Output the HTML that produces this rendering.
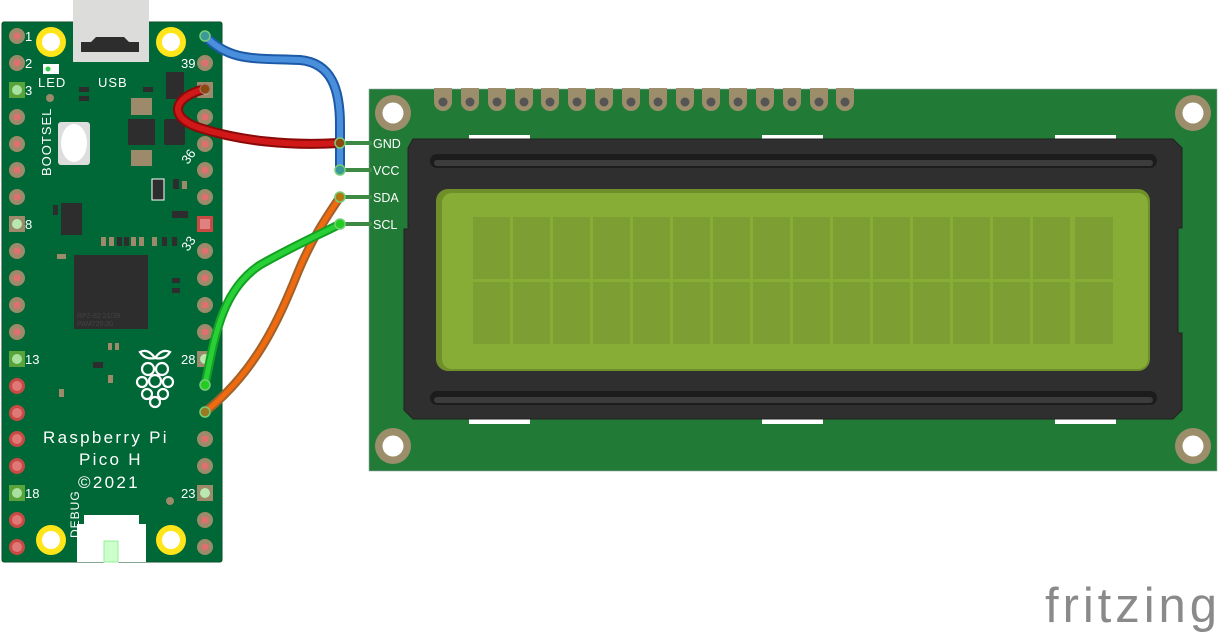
<!DOCTYPE html>
<html><head><meta charset="utf-8"><style>
html,body{margin:0;padding:0;background:#fff;width:1218px;height:633px;overflow:hidden}
svg{display:block}
text{font-family:"Liberation Sans","DejaVu Sans",sans-serif}
</style></head><body>
<svg width="1218" height="633" viewBox="0 0 1218 633" xmlns="http://www.w3.org/2000/svg">
<defs>
<g id="tp"><circle r="8" fill="#9c8a6a"/><circle r="3.5" fill="#e07070"/></g>
<g id="rp"><circle r="8" fill="#c94a45"/><circle r="5" fill="#e07878"/></g>
<g id="gs"><rect x="-8" y="-8" width="16" height="16" fill="#5aa33a"/><circle r="5" fill="#a8e0a0"/></g>
<g id="ts"><rect x="-8" y="-8" width="16" height="16" fill="#9c8a6a"/><circle r="5" fill="#b8e8b0"/></g>
<g id="rs"><rect x="-8" y="-8" width="16" height="16" fill="#c94a45"/><rect x="-5" y="-5" width="10" height="10" fill="#e08080"/></g>
<g id="hp"><path d="M-9,-14 h18 v14 a9,9 0 0 1 -18,0z" fill="#9c8e6a"/><circle cy="0" r="4.5" fill="#555"/></g>
<g id="mh"><circle r="18" fill="#9c8e6a"/><circle r="10.5" fill="#fff"/></g>
<g id="yh"><circle r="15" fill="#ffe51a"/><circle r="9" fill="#fff"/></g>
</defs>

<!-- PICO -->
<rect x="2" y="22" width="220" height="540" rx="2" fill="#006837" stroke="#0a4f2a" stroke-width="1"/>
<rect x="73" y="0" width="76" height="62" fill="#dcdcda"/>
<path d="M81,42 h10 l5,-5 h28 l5,5 h10 v10 h-58z" fill="#2d2d2d"/>
<use href="#yh" x="51" y="42"/><use href="#yh" x="171" y="42"/>
<use href="#yh" x="51" y="540"/><use href="#yh" x="171" y="540"/>
<rect x="43" y="64" width="16" height="10" fill="#fff"/><circle cx="48" cy="69" r="2.5" fill="#2ecc40"/>
<text x="38" y="87" font-size="13" fill="#fff" letter-spacing="1">LED</text>
<text x="98" y="87" font-size="13" fill="#fff" letter-spacing="1">USB</text>
<circle cx="50" cy="98" r="4" fill="#9c8a6a"/>
<rect x="58" y="122" width="32" height="43" rx="3" fill="#ddd"/><ellipse cx="74" cy="143" rx="13" ry="19" fill="#fff"/>
<text transform="translate(51,176) rotate(-90)" font-size="13" fill="#fff" letter-spacing="1">BOOTSEL</text>
<rect x="166" y="72" width="18" height="27" fill="#2d2d2d"/>
<rect x="131" y="98" width="21" height="17" fill="#9c8a6a"/><rect x="128" y="119" width="27" height="26" fill="#2d2d2d"/>
<rect x="164" y="119" width="21" height="26" rx="2" fill="#2d2d2d"/><rect x="131" y="150" width="21" height="16" fill="#9c8a6a"/>
<rect x="79" y="87" width="10" height="5" fill="#2d2d2d"/><rect x="79" y="96" width="10" height="5" fill="#2d2d2d"/>
<rect x="143" y="87" width="10" height="5" fill="#2d2d2d"/>
<rect x="152" y="179" width="12" height="21" fill="#2d2d2d" stroke="#fff" stroke-width="1"/>
<rect x="173" y="179" width="6" height="10" fill="#2d2d2d"/><rect x="182" y="181" width="5" height="8" fill="#9c8a6a"/>
<rect x="61" y="203" width="21" height="32" fill="#2d2d2d"/><rect x="53" y="205" width="5" height="10" fill="#2d2d2d"/>
<rect x="172" y="211" width="16" height="7" fill="#2d2d2d"/>
<g fill="#9c8a6a"><rect x="101" y="237" width="5" height="9"/><rect x="109" y="237" width="5" height="9"/><rect x="131" y="237" width="5" height="9"/><rect x="139" y="237" width="5" height="9"/><rect x="152" y="237" width="5" height="9"/></g>
<g fill="#2d2d2d"><rect x="117" y="237" width="5" height="9"/><rect x="124" y="237" width="5" height="9"/><rect x="162" y="237" width="5" height="9"/><rect x="172" y="237" width="5" height="9"/></g>
<rect x="74" y="255" width="74" height="74" fill="#2d2d2d"/>
<text x="77" y="318" font-size="7" fill="#444">RP2-82   21/39</text>
<text x="77" y="326" font-size="7" fill="#444">PAM720.00</text>
<rect x="57" y="254" width="9" height="5" fill="#9c8a6a"/><rect x="172" y="278" width="8" height="5" fill="#2d2d2d"/><rect x="172" y="288" width="8" height="5" fill="#2d2d2d"/>
<text transform="translate(188,165) rotate(-55)" font-size="13" fill="#fff">36</text>
<text transform="translate(188,252) rotate(-55)" font-size="13" fill="#fff">33</text>
<g fill="none" stroke="#fff" stroke-width="2.2">
<path d="M140,352 q8,-4 15,6 q-10,2 -15,-6z M170,352 q-8,-4 -15,6 q10,2 15,-6z"/>
<circle cx="148" cy="369" r="6"/><circle cx="162" cy="369" r="6"/><circle cx="155" cy="381" r="6"/>
<circle cx="142" cy="382" r="5"/><circle cx="168" cy="382" r="5"/><circle cx="147" cy="394" r="5"/><circle cx="163" cy="394" r="5"/><circle cx="155" cy="402" r="5"/>
</g>
<rect x="108" y="343" width="4" height="7" fill="#9c8a6a"/><rect x="115" y="343" width="4" height="7" fill="#9c8a6a"/>
<rect x="93" y="362" width="10" height="6" fill="#2d2d2d"/><rect x="108" y="375" width="5" height="8" fill="#9c8a6a"/><rect x="59" y="389" width="5" height="8" fill="#9c8a6a"/>
<text x="43" y="443" font-size="17" fill="#fff" letter-spacing="2.3">Raspberry Pi</text>
<text x="79" y="465" font-size="17" fill="#fff" letter-spacing="2.3">Pico H</text>
<text x="78" y="488" font-size="17" fill="#fff" letter-spacing="2.3">©2021</text>
<text transform="translate(79,538) rotate(-90)" font-size="12" fill="#fff" letter-spacing="1">DEBUG</text>
<circle cx="170" cy="501" r="4" fill="#9c8a6a"/>
<rect x="77" y="524" width="69" height="38" fill="#fff"/><rect x="84" y="515" width="55" height="12" fill="#fff"/>
<rect x="104" y="541" width="14" height="21" fill="#cfc" stroke="#9e9" stroke-width="1"/>
<text x="25" y="41" font-size="13" fill="#fff">1</text><text x="25" y="68" font-size="13" fill="#fff">2</text><text x="25" y="95" font-size="13" fill="#fff">3</text>
<text x="25" y="229" font-size="13" fill="#fff">8</text><text x="25" y="364" font-size="13" fill="#fff">13</text><text x="25" y="498" font-size="13" fill="#fff">18</text>
<text x="181" y="68" font-size="13" fill="#fff">39</text><text x="181" y="364" font-size="13" fill="#fff">28</text><text x="181" y="498" font-size="13" fill="#fff">23</text>
<use href="#tp" x="17" y="36"/><use href="#tp" x="17" y="63"/><use href="#gs" x="17" y="90"/>
<use href="#tp" x="17" y="117"/><use href="#tp" x="17" y="144"/><use href="#tp" x="17" y="170"/><use href="#tp" x="17" y="197"/>
<use href="#ts" x="17" y="224"/><use href="#tp" x="17" y="251"/><use href="#tp" x="17" y="278"/><use href="#tp" x="17" y="305"/><use href="#tp" x="17" y="332"/>
<use href="#gs" x="17" y="359"/><use href="#rp" x="17" y="386"/><use href="#rp" x="17" y="413"/><use href="#rp" x="17" y="439"/><use href="#rp" x="17" y="466"/>
<use href="#gs" x="17" y="493"/><use href="#rp" x="17" y="520"/><use href="#rp" x="17" y="547"/>
<use href="#tp" x="205" y="63"/><use href="#ts" x="205" y="90"/>
<use href="#tp" x="205" y="117"/><use href="#tp" x="205" y="144"/><use href="#tp" x="205" y="170"/><use href="#tp" x="205" y="197"/>
<use href="#rs" x="205" y="224"/><use href="#tp" x="205" y="251"/><use href="#tp" x="205" y="278"/><use href="#tp" x="205" y="305"/><use href="#tp" x="205" y="332"/>
<use href="#ts" x="205" y="359"/><use href="#tp" x="205" y="439"/><use href="#tp" x="205" y="466"/>
<use href="#ts" x="205" y="493"/><use href="#tp" x="205" y="520"/><use href="#tp" x="205" y="547"/>

<!-- LCD -->
<rect x="369" y="89" width="848" height="382" fill="#217a35" stroke="#9aa" stroke-width="0.6"/>
<use href="#mh" x="393" y="113"/><use href="#mh" x="1193" y="113"/><use href="#mh" x="393" y="446"/><use href="#mh" x="1193" y="446"/>
<use href="#hp" x="443" y="102"/><use href="#hp" x="470" y="102"/><use href="#hp" x="497" y="102"/><use href="#hp" x="524" y="102"/>
<use href="#hp" x="550" y="102"/><use href="#hp" x="577" y="102"/><use href="#hp" x="604" y="102"/><use href="#hp" x="631" y="102"/>
<use href="#hp" x="658" y="102"/><use href="#hp" x="685" y="102"/><use href="#hp" x="711" y="102"/><use href="#hp" x="738" y="102"/>
<use href="#hp" x="765" y="102"/><use href="#hp" x="792" y="102"/><use href="#hp" x="819" y="102"/><use href="#hp" x="845" y="102"/>
<g fill="#fff"><rect x="469" y="135" width="61" height="5"/><rect x="762" y="135" width="61" height="5"/><rect x="1055" y="135" width="61" height="5"/>
<rect x="469" y="419" width="61" height="5"/><rect x="762" y="419" width="61" height="5"/><rect x="1055" y="419" width="61" height="5"/></g>
<path d="M413,139 H1173 L1182,148 V228 H1178 V333 H1182 V410 L1173,419 H413 L404,410 V229 H408 V148 Z" fill="#2f2f2f" stroke="#222" stroke-width="1"/>
<rect x="430" y="154" width="727" height="14" rx="7" fill="#1c1c1c"/><rect x="434" y="160" width="719" height="6" rx="3" fill="#3c3c3c"/>
<rect x="430" y="391" width="727" height="14" rx="7" fill="#1c1c1c"/><rect x="434" y="397" width="719" height="6" rx="3" fill="#3c3c3c"/>
<rect x="436" y="189" width="714" height="182" rx="12" fill="#6f8f2a"/>
<rect x="442" y="193" width="706" height="176" rx="10" fill="#88ad36"/>
<g fill="#7c9e33">
<rect x="473" y="217" width="37" height="62"/><rect x="513" y="217" width="37" height="62"/><rect x="553" y="217" width="37" height="62"/><rect x="593" y="217" width="37" height="62"/>
<rect x="633" y="217" width="37" height="62"/><rect x="673" y="217" width="37" height="62"/><rect x="713" y="217" width="37" height="62"/><rect x="753" y="217" width="37" height="62"/>
<rect x="793" y="217" width="37" height="62"/><rect x="833" y="217" width="37" height="62"/><rect x="873" y="217" width="37" height="62"/><rect x="913" y="217" width="37" height="62"/>
<rect x="953" y="217" width="37" height="62"/><rect x="993" y="217" width="37" height="62"/><rect x="1033" y="217" width="37" height="62"/><rect x="1075" y="217" width="38" height="62"/>
<rect x="473" y="282" width="37" height="62"/><rect x="513" y="282" width="37" height="62"/><rect x="553" y="282" width="37" height="62"/><rect x="593" y="282" width="37" height="62"/>
<rect x="633" y="282" width="37" height="62"/><rect x="673" y="282" width="37" height="62"/><rect x="713" y="282" width="37" height="62"/><rect x="753" y="282" width="37" height="62"/>
<rect x="793" y="282" width="37" height="62"/><rect x="833" y="282" width="37" height="62"/><rect x="873" y="282" width="37" height="62"/><rect x="913" y="282" width="37" height="62"/>
<rect x="953" y="282" width="37" height="62"/><rect x="993" y="282" width="37" height="62"/><rect x="1033" y="282" width="37" height="62"/><rect x="1075" y="282" width="38" height="62"/>
</g>
<g stroke="#3d8a45" stroke-width="4"><line x1="338" y1="143" x2="372" y2="143"/><line x1="338" y1="170" x2="372" y2="170"/><line x1="338" y1="197" x2="372" y2="197"/><line x1="338" y1="224" x2="372" y2="224"/></g>
<g font-size="12.5" fill="#fff"><text x="373" y="148">GND</text><text x="373" y="175">VCC</text><text x="373" y="202">SDA</text><text x="373" y="229">SCL</text></g>

<!-- wires -->
<g fill="none" stroke-linecap="round">
<path d="M205,36 C230,62 255,58 300,60 C332,63 340,90 340,125 L340,170" stroke="#1c5aa8" stroke-width="10"/>
<path d="M205,36 C230,62 255,58 300,60 C332,63 340,90 340,125 L340,170" stroke="#4a8fdc" stroke-width="6"/>
<path d="M205,89 C172,97 168,118 200,128 C240,141 290,146 339,143" stroke="#8a0a0a" stroke-width="10"/>
<path d="M205,89 C172,97 168,118 200,128 C240,141 290,146 339,143" stroke="#d01818" stroke-width="6"/>
<path d="M205,412 C255,372 278,322 298,272 C313,236 328,215 340,197" stroke="#a0622a" stroke-width="9"/>
<path d="M205,412 C255,372 278,322 298,272 C313,236 328,215 340,197" stroke="#f06a10" stroke-width="5"/>
<path d="M205,385 C215,335 222,290 260,265 C295,245 325,232 340,224" stroke="#14a020" stroke-width="9"/>
<path d="M205,385 C215,335 222,290 260,265 C295,245 325,232 340,224" stroke="#28d038" stroke-width="5"/>
</g>
<g>
<circle cx="205" cy="36" r="5" fill="#3a9a9a" stroke="#7c7" stroke-width="1.5"/>
<circle cx="205" cy="89" r="5" fill="#8a4a10" stroke="#a77" stroke-width="1"/>
<circle cx="205" cy="385" r="5" fill="#2c2" stroke="#7c7" stroke-width="1.5"/>
<circle cx="205" cy="412" r="5" fill="#9a7a20" stroke="#7c7" stroke-width="1.5"/>
<circle cx="340" cy="143" r="5" fill="#8a4a10" stroke="#7c7" stroke-width="1.5"/>
<circle cx="340" cy="170" r="5" fill="#3a9a9a" stroke="#7c7" stroke-width="1.5"/>
<circle cx="340" cy="197" r="5" fill="#b07a10" stroke="#7c7" stroke-width="1.5"/>
<circle cx="340" cy="224" r="5" fill="#2c2" stroke="#7c7" stroke-width="1.5"/>
</g>

<text x="1045" y="622" font-size="49" fill="#8a8a8a" textLength="172" lengthAdjust="spacing">fritzing</text>
</svg>
</body></html>
